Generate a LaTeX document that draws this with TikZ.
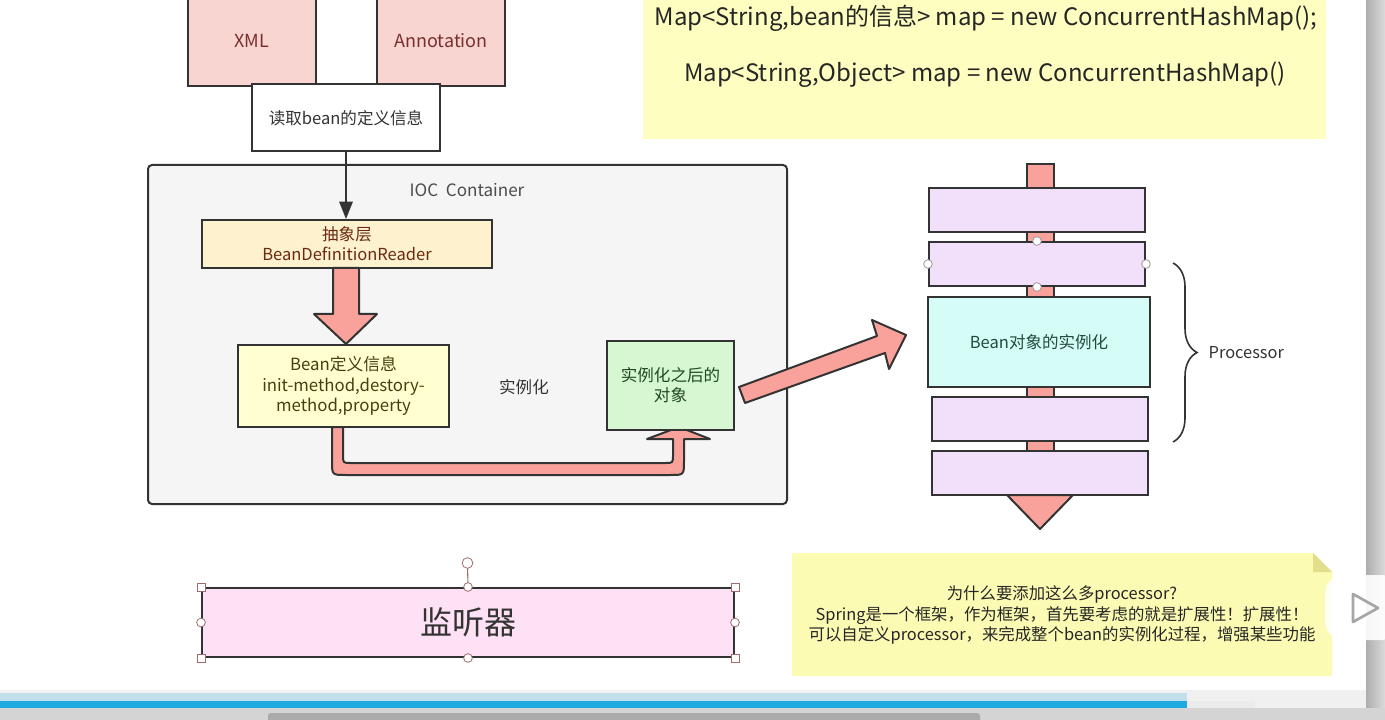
\documentclass[tikz,border=0pt]{standalone}
\usepackage{fontspec}
\setmainfont{Noto Sans CJK SC}
\usetikzlibrary{arrows.meta,decorations.pathreplacing,calc}
\definecolor{pinkfill}{HTML}{F8D5D1}
\definecolor{pinktext}{HTML}{7A2E2E}
\definecolor{salmon}{HTML}{F9A29B}
\definecolor{absfill}{HTML}{FDF1CE}
\definecolor{abstext}{HTML}{6B2A10}
\definecolor{deffill}{HTML}{FFFFD2}
\definecolor{deftext}{HTML}{47400E}
\definecolor{objfill}{HTML}{D6F7D2}
\definecolor{objtext}{HTML}{1F4A1F}
\definecolor{purp}{HTML}{F2DFFA}
\definecolor{cyanfill}{HTML}{D5FCF7}
\definecolor{cyantext}{HTML}{1F4D3D}
\definecolor{notea}{HTML}{FEFEC0}
\definecolor{noteb}{HTML}{FCFBB3}
\definecolor{fold}{HTML}{E2DE8A}
\definecolor{lisfill}{HTML}{FFE1F5}
\definecolor{edge}{HTML}{333333}
\definecolor{iocfill}{HTML}{F5F5F5}
\definecolor{hcol}{HTML}{A06A6A}
\definecolor{hgray}{HTML}{9A9A9A}
\definecolor{barblue}{HTML}{1FA9E1}
\definecolor{barlight}{HTML}{C2DFEA}
\begin{document}
\begin{tikzpicture}[x=0.75pt,y=-0.75pt,
  box/.style={draw=edge,line width=1.5pt,inner sep=0,align=center},
  wh/.style 2 args={minimum width=#1*0.75pt,minimum height=#2*0.75pt},
  fs/.style 2 args={font=\fontsize{#1}{#2}\selectfont},
  fat/.style={draw=edge,line width=1.5pt,fill=salmon,line join=round},
  hround/.style={circle,draw=#1,fill=white,line width=0.6pt,inner sep=0,minimum size=6.5pt},
  hsquare/.style={rectangle,draw=#1,fill=white,line width=0.6pt,inner sep=0,minimum size=6pt}
]
\useasboundingbox (0,0) rectangle (1385,720);
\fill[white] (0,0) rectangle (1385,720);

% top note
\node[fill=notea, wh={683}{144}, inner sep=0] (map) at (984.5,67) {};
\node[fs={18}{21}, text=black!85] (m1) at (986,18) {Map<String,bean的信息> map = new ConcurrentHashMap();};
\node[fs={18}{21}, text=black!85] (m2) at (985,75) {Map<String,Object> map = new ConcurrentHashMap()};

% sources
\node[box, fill=pinkfill, text=pinktext, wh={128}{90}, fs={13.5}{16}] (xml) at (252,41) {XML};
\node[box, fill=pinkfill, text=pinktext, wh={128}{90}, fs={13.5}{16}] (ann) at (441,41) {Annotation};
\node[box, fill=white, text=black!80, wh={188}{67}, fs={12.4}{15}] (read) at (346,118) {读取bean的定义信息};

% IOC container
\node[draw=edge, line width=1.5pt, fill=iocfill, rounded corners=3pt, wh={639}{339}] (ioc) at (467.5,334.5) {};
\node[text=black!70, fs={12.8}{15}] (ioclbl) at (467,190) {IOC\ \ Container};

\node[box, fill=absfill, text=abstext, wh={290}{48}, fs={12.4}{15}] (abs) at (347,244) {抽象层\\BeanDefinitionReader};
\draw[edge, line width=1.5pt, -{Triangle[width=10pt,length=13pt]}] (read.south) -- (read.south |- abs.north);

% fat down arrow
\draw[fat] (333,268) -- (359,268) -- (359,314) -- (377,314) -- (346,344) -- (314,314) -- (333,314) -- cycle;

% U arrow
\draw[fat] (332,427) -- (332,461) .. controls (332,475) .. (346,475) -- (670,475) .. controls (684,475) .. (684,461) -- (684,439) -- (710,439) -- (679,427) -- (647,439) -- (673,439) -- (673,455) .. controls (673,463) .. (665,463) -- (351,463) .. controls (343,463) .. (343,455) -- (343,427) -- cycle;

\node[box, fill=deffill, text=deftext, wh={211}{82}, fs={12.6}{15.3}] (def) at (343.5,386) {Bean定义信息\\init-method,destory-\\method,property};
\node[text=black!80, fs={12.4}{15}] (inst) at (524,387) {实例化};
\node[box, fill=objfill, text=objtext, wh={127}{89}, fs={12.4}{15}] (obj) at (670.5,385.5) {实例化之后的\\对象};

% diagonal arrow
\draw[fat] (739,387) -- (877,336) -- (872,320) -- (906,335) -- (889,369) -- (885,353) -- (745,403) -- cycle;

% processor stack
\draw[edge, line width=1.2pt, fill=salmon] (1027,164) rectangle (1054,500);
\draw[fat] (1007,495) -- (1073,495) -- (1040,529) -- cycle;
\node[box, fill=purp, wh={216}{44}] (p1) at (1037,210) {};
\node[box, fill=purp, wh={216}{44}] (p2) at (1037,264) {};
\node[box, fill=cyanfill, text=cyantext, wh={222}{90}, fs={12.4}{15}] (p3) at (1039,342) {Bean对象的实例化};
\node[box, fill=purp, wh={216}{44}] (p4) at (1040,419) {};
\node[box, fill=purp, wh={216}{44}] (p5) at (1040,473) {};
\node[hround=hgray] (q1) at (p2.north) {};
\node[hround=hgray] (q2) at (p2.south) {};
\node[hround=hgray] (q3) at (p2.west) {};
\node[hround=hgray] (q4) at (p2.east) {};

% brace
\draw[edge, line width=1.2pt, decorate, decoration={brace, amplitude=18pt, aspect=0.5}] (1173,263) -- (1173,442);
\node[anchor=west, text=black!80, fs={12.3}{15}] (proc) at (1204,353) {Processor};

% bottom note
\fill[noteb] (792,553) -- (1313,553) -- (1332,572) -- (1332,676) -- (792,676) -- cycle;
\fill[fold] (1313,553) -- (1332,572) -- (1313,572) -- cycle;
\node[align=center, text=black!85, fs={12.3}{15.7}] (why) at (1062,615) {为什么要添加这么多processor?\\Spring是一个框架，作为框架，首先要考虑的就是扩展性！扩展性！\\可以自定义processor，来完成整个bean的实例化过程，增强某些功能};

% listener
\node[box, fill=lisfill, text=black!80, wh={532}{69}, fs={24}{28}] (lis) at (468,622.5) {监听器};
\coordinate (rot) at (467.5,563);
\draw[hcol, line width=0.8pt] (lis.north) -- (rot);
\node[hround=hcol, minimum size=8pt] (r0) at (rot) {};
\node[hsquare=hcol] (s1) at (lis.north west) {};
\node[hsquare=hcol] (s2) at (lis.north east) {};
\node[hsquare=hcol] (s3) at (lis.south west) {};
\node[hsquare=hcol] (s4) at (lis.south east) {};
\node[hround=hcol] (c1) at (lis.north) {};
\node[hround=hcol] (c2) at (lis.south) {};
\node[hround=hcol] (c3) at (lis.west) {};
\node[hround=hcol] (c4) at (lis.east) {};

% player UI
\shade[left color=black!32, right color=black!14] (1366,0) rectangle (1385,710);
\fill[black!6] (0,690) rectangle (1366,708);
\fill[barlight] (0,693) rectangle (1187,701);
\fill[barblue] (0,701) rectangle (1187,708);
\fill[black!8] (1187,701) rectangle (1255,708);
\fill[black!17] (0,708) rectangle (1385,720);
\fill[black!33, rounded corners=2pt] (268,713) rectangle (980,722);
\fill[white, opacity=0.9, rounded corners=14pt] (1325,575) rectangle (1400,640);
\draw[black!35, line width=2pt, line join=round] (1353,594) -- (1353,622) -- (1378,608) -- cycle;
\end{tikzpicture}
\end{document}
